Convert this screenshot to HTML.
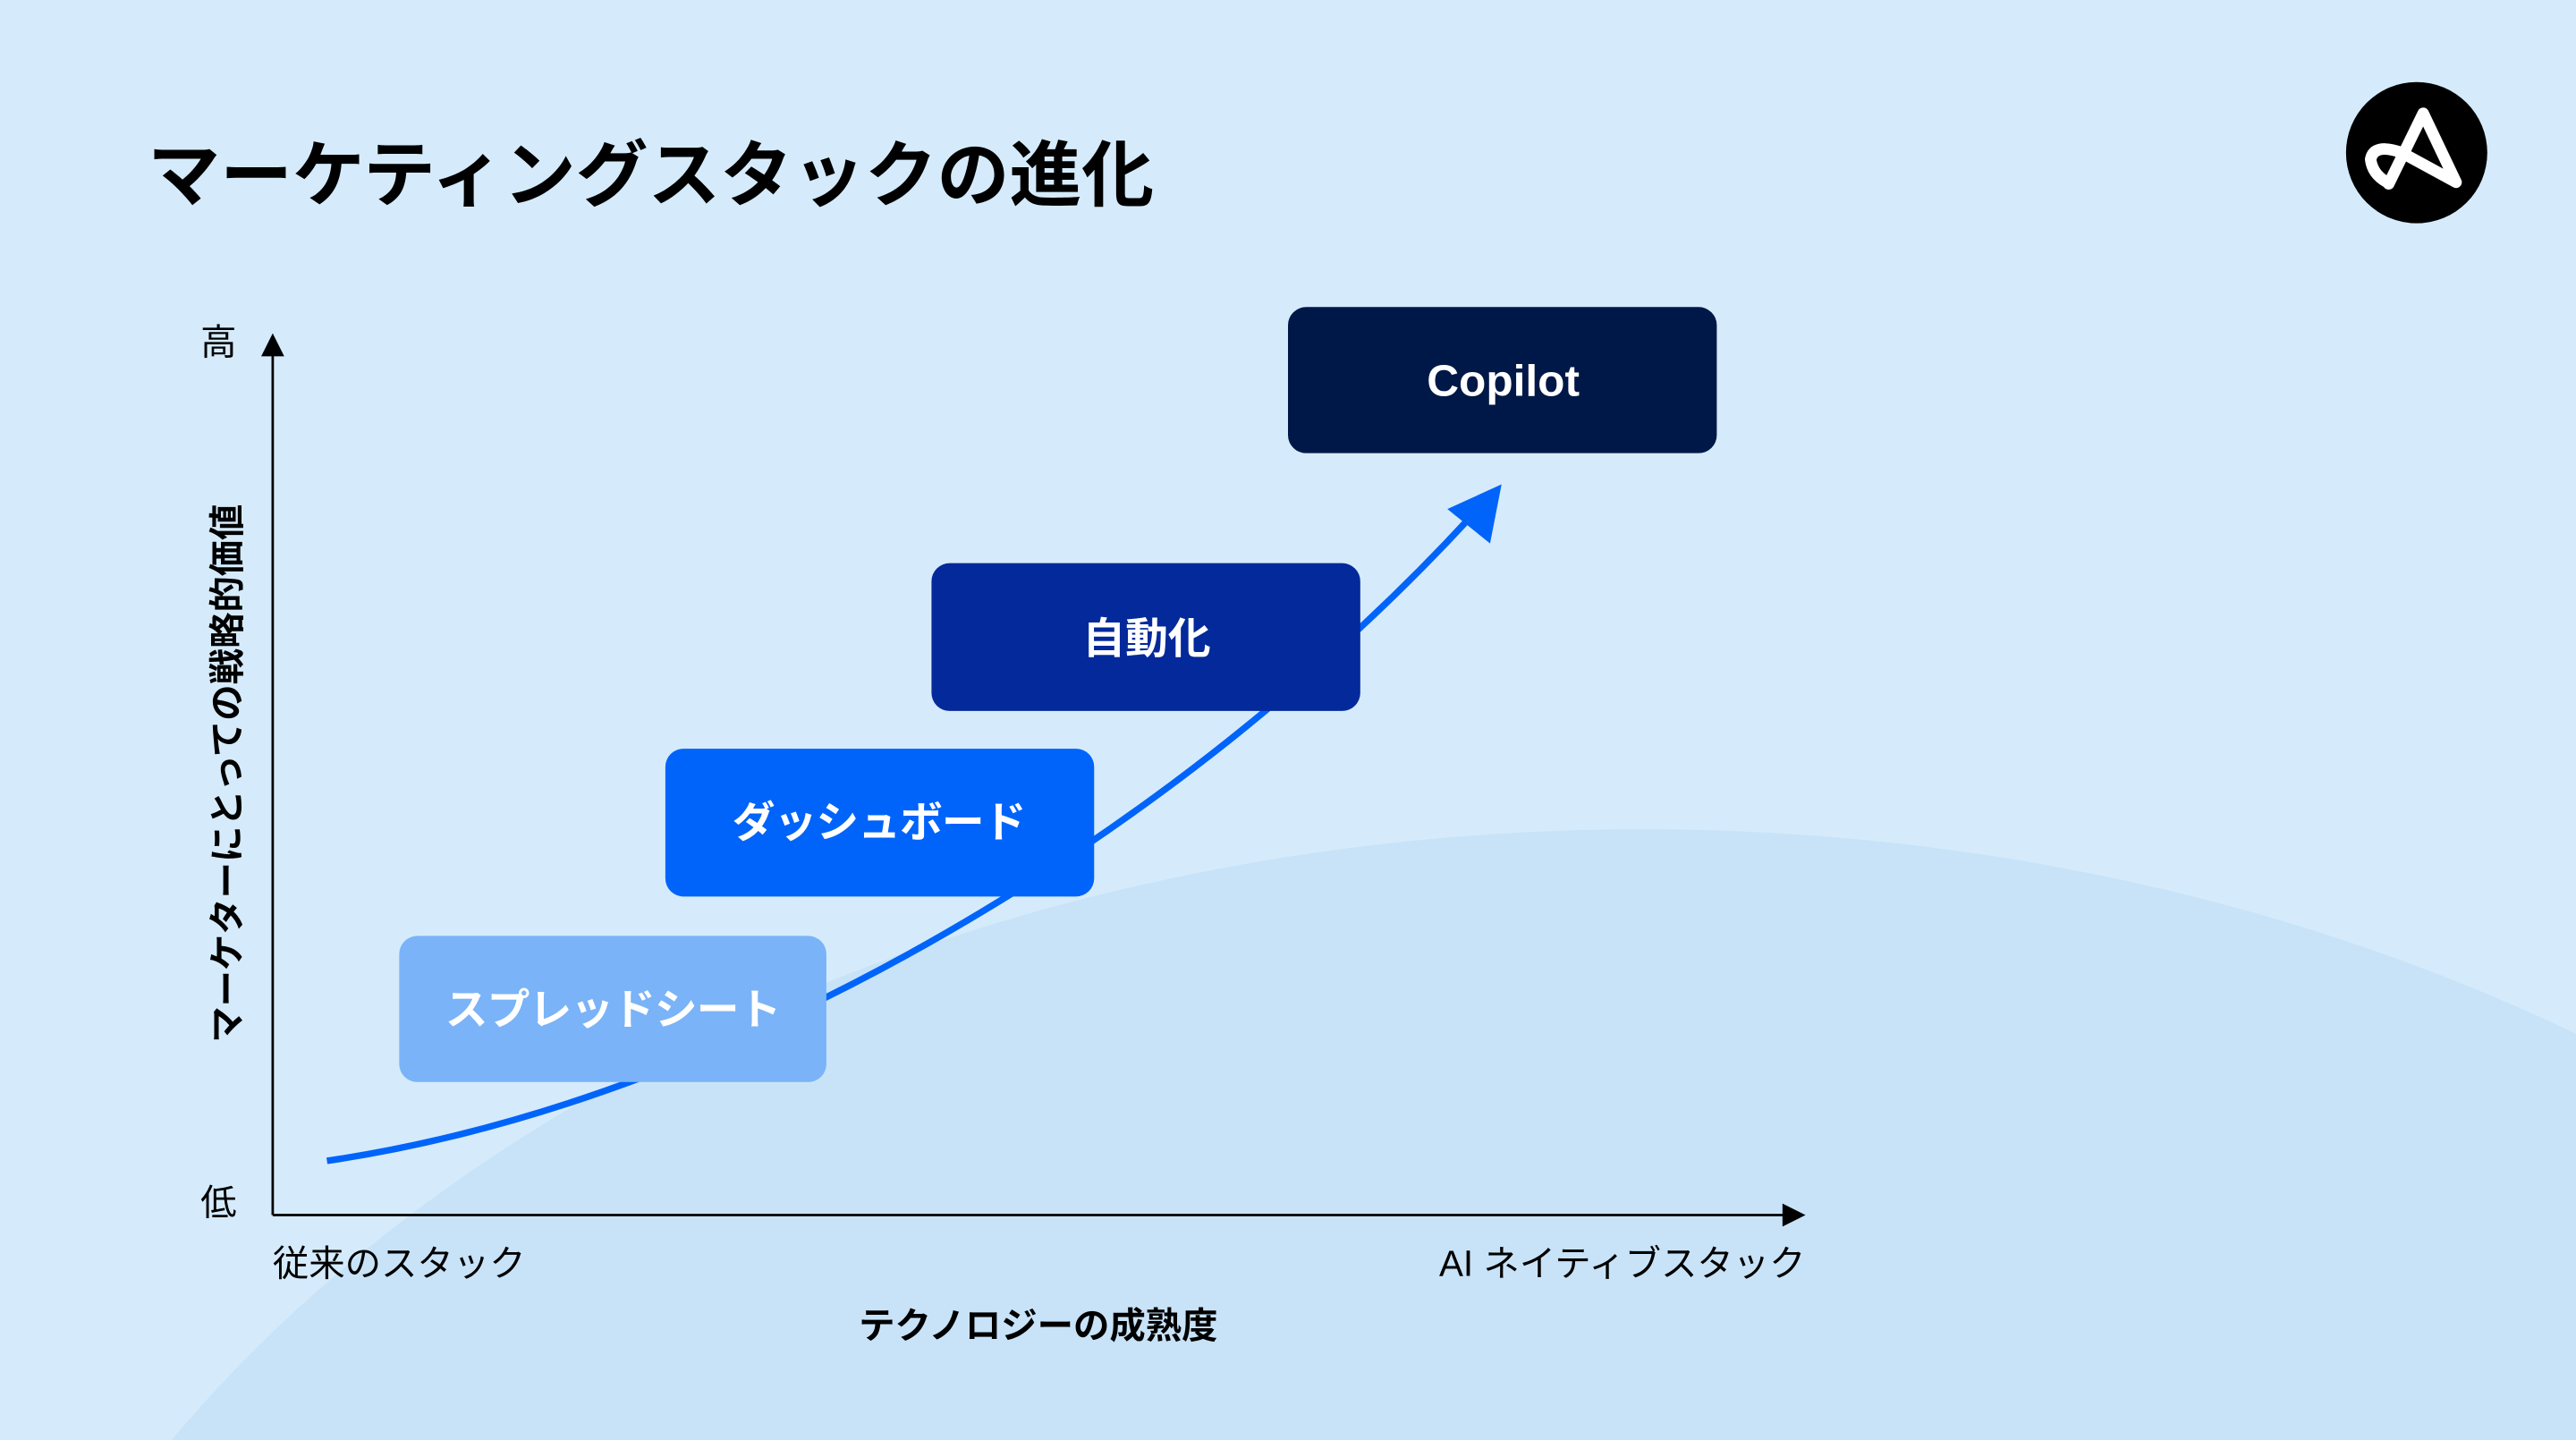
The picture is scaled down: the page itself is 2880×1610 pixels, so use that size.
<!DOCTYPE html>
<html><head><meta charset="utf-8"><style>
html,body{margin:0;padding:0;background:#d5ebfb;width:2880px;height:1610px;overflow:hidden;position:relative;}
svg{display:block;position:absolute;left:0;top:0;}
text{font-family:"Liberation Sans","Noto Sans CJK JP",sans-serif;}
</style></head><body>
<svg width="2880" height="1610" viewBox="0 0 1568 877" preserveAspectRatio="none" xmlns="http://www.w3.org/2000/svg">
<rect width="1568" height="877" fill="#d5ebfb"/>
<ellipse cx="1000" cy="1305" rx="1060" ry="800" fill="#c8e3f8"/>
<text x="90" y="122" font-size="44" font-weight="700" fill="#000">マーケティングスタックの進化</text>
<circle cx="1471" cy="93" r="43" fill="#000"/>
<path d="M1454,112 L1475,69 L1495,111 L1462,93 Q1445,87 1443,97 Q1444,106 1453,111" fill="none" stroke="#fff" stroke-width="7" stroke-linejoin="round" stroke-linecap="round"/>
<line x1="166" y1="212" x2="166" y2="740" stroke="#000" stroke-width="1.5"/>
<polygon points="166,203 159,217 173,217" fill="#000"/>
<line x1="166" y1="740" x2="1088" y2="740" stroke="#000" stroke-width="1.5"/>
<polygon points="1099,740 1085,733 1085,747" fill="#000"/>
<text x="133" y="216" font-size="22" text-anchor="middle" fill="#000">高</text>
<text x="133" y="740" font-size="22" text-anchor="middle" fill="#000">低</text>
<text transform="translate(146,471) rotate(-90)" font-size="22" font-weight="700" text-anchor="middle" fill="#000">マーケターにとっての戦略的価値</text>
<text x="166" y="777" font-size="22" fill="#000">従来のスタック</text>
<text x="1099" y="777" font-size="22" text-anchor="end" fill="#000">AI ネイティブスタック</text>
<text x="632" y="815" font-size="22" font-weight="700" text-anchor="middle" fill="#000">テクノロジーの成熟度</text>
<path d="M199,707 C450,670 720,505 895,315" fill="none" stroke="#0064fa" stroke-width="4"/>
<polygon points="914,295 881,310 907,331" fill="#0064fa"/>
<rect x="243" y="570" width="260" height="89" rx="11" fill="#7ab3f7"/>
<text x="373" y="624" font-size="26" font-weight="700" letter-spacing="-0.5" fill="#fff" text-anchor="middle">スプレッドシート</text>
<rect x="405" y="456" width="261" height="90" rx="11" fill="#0064fa"/>
<text x="535" y="510" font-size="26" font-weight="700" letter-spacing="-0.5" fill="#fff" text-anchor="middle">ダッシュボード</text>
<rect x="567" y="343" width="261" height="90" rx="11" fill="#03299b"/>
<text x="698" y="398" font-size="26" font-weight="700" fill="#fff" text-anchor="middle">自動化</text>
<rect x="784" y="187" width="261" height="89" rx="11" fill="#001847"/>
<text x="915" y="241" font-size="27" font-weight="700" fill="#fff" text-anchor="middle">Copilot</text>
</svg>
</body></html>
